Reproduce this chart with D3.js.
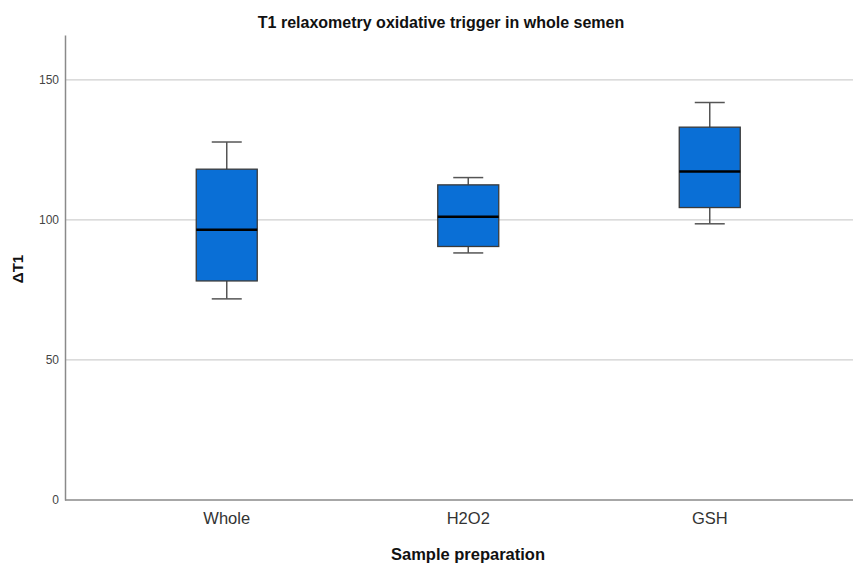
<!DOCTYPE html>
<html><head><meta charset="utf-8">
<script src="https://cdn.jsdelivr.net/npm/d3@7/dist/d3.min.js"></script>
<style>body{margin:0;background:#fff}svg{display:block}</style>
</head><body>
<svg id="c" width="853" height="564"></svg>
<script>
const categories = ["Whole", "H2O2", "GSH"];
const whiskerLow = [71.8, 88.2, 98.6];
const q1 = [78.2, 90.5, 104.4];
const median = [96.5, 101.1, 117.3];
const q3 = [118.1, 112.5, 133.1];
const whiskerHigh = [127.8, 115.1, 141.9];
const yTicks = [0, 50, 100, 150];

(function () {
const svg = d3.select("#c");
const pLeft = 65, pRight = 853, pTop = 35, pBottom = 500;
const x = d3.scaleBand().domain(categories).range([106, 830.5]);
const y = d3.scaleLinear().domain([0, 166]).range([pBottom, pTop]);
const font = "'Liberation Sans', Arial, sans-serif";

svg.append("g").selectAll("line").data(yTicks.filter(d => d > 0)).join("line")
  .attr("x1", pLeft).attr("x2", pRight).attr("y1", d => y(d)).attr("y2", d => y(d))
  .attr("stroke", "#cfcfcf").attr("stroke-width", 1.3);

const ya = svg.append("g").attr("transform", `translate(${pLeft},0)`)
  .call(d3.axisLeft(y).tickValues(yTicks).tickSize(0).tickPadding(6));
ya.select(".domain").attr("stroke", "#8a8a8a").attr("stroke-width", 1.5);
ya.selectAll("text").attr("font-family", font).attr("font-size", 12).attr("fill", "#444");

const xa = svg.append("g").attr("transform", `translate(0,${pBottom})`)
  .call(d3.axisBottom(x).tickSize(0).tickPadding(12));
xa.select(".domain").attr("d", `M${pLeft},0H${pRight}`).attr("stroke", "#8a8a8a").attr("stroke-width", 1.5);
xa.selectAll("text").attr("font-family", font).attr("font-size", 16.5).attr("fill", "#333");

const data = categories.map((c, i) => ({c, lo: whiskerLow[i], q1: q1[i], med: median[i], q3: q3[i], hi: whiskerHigh[i]}));
const bw = 61, cap = 30;
const g = svg.append("g").selectAll("g").data(data).join("g")
  .attr("transform", d => `translate(${x(d.c) + x.bandwidth() / 2},0)`);
g.append("line").attr("x1", 0).attr("x2", 0).attr("y1", d => y(d.hi)).attr("y2", d => y(d.q3)).attr("stroke", "#555").attr("stroke-width", 1.5);
g.append("line").attr("x1", 0).attr("x2", 0).attr("y1", d => y(d.q1)).attr("y2", d => y(d.lo)).attr("stroke", "#555").attr("stroke-width", 1.5);
g.append("line").attr("x1", -cap / 2).attr("x2", cap / 2).attr("y1", d => y(d.hi)).attr("y2", d => y(d.hi)).attr("stroke", "#555").attr("stroke-width", 1.5);
g.append("line").attr("x1", -cap / 2).attr("x2", cap / 2).attr("y1", d => y(d.lo)).attr("y2", d => y(d.lo)).attr("stroke", "#555").attr("stroke-width", 1.5);
g.append("rect").attr("x", -bw / 2).attr("width", bw).attr("y", d => y(d.q3)).attr("height", d => y(d.q1) - y(d.q3))
  .attr("fill", "#0a6fd6").attr("stroke", "#3a3a3a").attr("stroke-width", 1.3);
g.append("line").attr("x1", -bw / 2).attr("x2", bw / 2).attr("y1", d => y(d.med)).attr("y2", d => y(d.med)).attr("stroke", "#000").attr("stroke-width", 2.5);

svg.append("text").attr("x", 441).attr("y", 28).attr("text-anchor", "middle")
  .attr("font-family", font).attr("font-weight", "bold").attr("font-size", 16).attr("fill", "#111")
  .text("T1 relaxometry oxidative trigger in whole semen");
svg.append("text").attr("x", 468).attr("y", 560).attr("text-anchor", "middle")
  .attr("font-family", font).attr("font-weight", "bold").attr("font-size", 16.5).attr("fill", "#111")
  .text("Sample preparation");
svg.append("text").attr("transform", "translate(23,269) rotate(-90)").attr("text-anchor", "middle")
  .attr("font-family", font).attr("font-weight", "bold").attr("font-size", 15).attr("fill", "#111")
  .text("ΔT1");
})();
</script>
</body></html>
